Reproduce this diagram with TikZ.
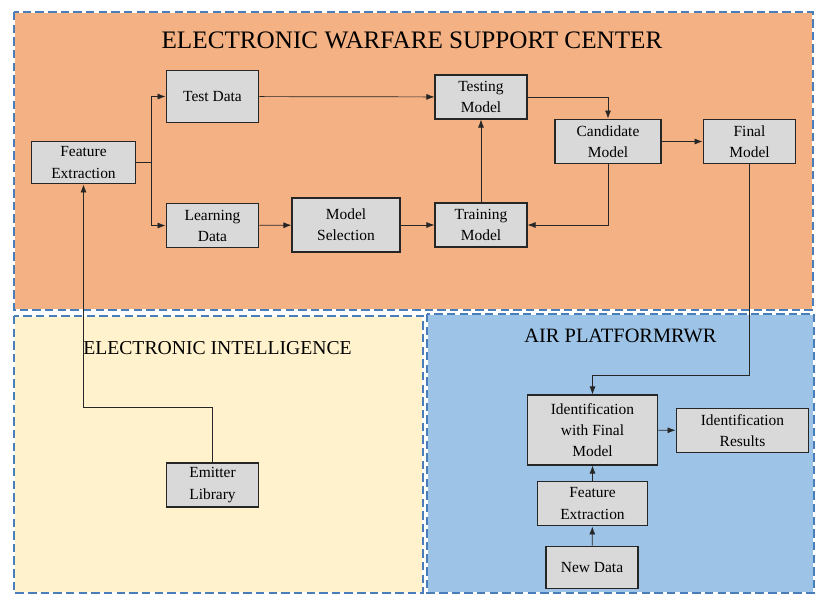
\documentclass[tikz,border=0pt]{standalone}
\usepackage{fontspec}
\setmainfont{Liberation Serif}
\usepackage{tikz}
\usetikzlibrary{arrows.meta}
\usetikzlibrary{calc}
\definecolor{ewsc}{HTML}{F4B183}
\definecolor{elint}{HTML}{FFF2CC}
\definecolor{rwr}{HTML}{9DC3E6}
\definecolor{edge}{HTML}{4A7EBB}
\definecolor{boxgray}{HTML}{D9D9D9}
\tikzstyle{blk} = [draw=black!85, fill=boxgray, line width=0.8pt,
    align=center, inner sep=1pt, font=\fontsize{11}{15}\selectfont]
\tikzstyle{zone} = [fill=#1, draw=white, line width=1.4pt,
    postaction={draw=edge, dashed, dash pattern=on 6pt off 3pt, line width=0.8pt}]
\tikzset{>={Latex[length=2mm,width=1.5mm]}}

\begin{document}
\begin{tikzpicture}
\begin{scope}[x=0.025cm, y=-0.025cm]
    \useasboundingbox (0,0) rectangle (823,600);
    %zones
    \draw[zone=ewsc] (14,12) rectangle (813,310);
    \draw[zone=elint] (14,316) rectangle (423,593);
    \draw[zone=rwr] (427,314) rectangle (814,593);
    \node[font=\fontsize{17.9}{20}\selectfont] (t1) at (412,40) {ELECTRONIC WARFARE SUPPORT CENTER};
    \node[font=\fontsize{14}{17}\selectfont] (t2) at (217.5,348) {ELECTRONIC INTELLIGENCE};
    \node[font=\fontsize{14.5}{17}\selectfont] (t3) at (620.5,336) {AIR PLATFORMRWR};
    %boxes
    \node[blk, minimum width=2.62cm, minimum height=1.07cm] (fe1) at (83.5,162.5) {Feature\\Extraction};
    \node[blk, minimum width=2.32cm, minimum height=1.32cm] (td) at (212.5,96.5) {Test Data};
    \node[blk, minimum width=2.32cm, minimum height=1.12cm] (ld) at (212.5,225.5) {Learning\\Data};
    \node[blk, minimum width=2.7cm, minimum height=1.35cm] (ms) at (346,225) {Model\\Selection};
    \node[blk, minimum width=2.3cm, minimum height=1.1cm] (tsm) at (481,97) {Testing\\Model};
    \node[blk, minimum width=2.3cm, minimum height=1.1cm] (trm) at (481,225) {Training\\Model};
    \node[blk, minimum width=2.65cm, minimum height=1.12cm] (cm) at (608,141.5) {Candidate\\Model};
    \node[blk, minimum width=2.32cm, minimum height=1.12cm] (fm) at (749.5,141.5) {Final\\Model};
    \node[blk, minimum width=2.32cm, minimum height=1.1cm] (el) at (212.5,485) {Emitter\\Library};
    \node[blk, minimum width=3.27cm, minimum height=1.75cm] (idf) at (592.5,430) {Identification\\with Final\\Model};
    \node[blk, minimum width=3.32cm, minimum height=1.12cm] (ir) at (742.5,430.5) {Identification\\Results};
    \node[blk, minimum width=2.77cm, minimum height=1.12cm] (fe2) at (592.5,503.5) {Feature\\Extraction};
    \node[blk, minimum width=2.3cm, minimum height=1.07cm] (nd) at (592,567.5) {New Data};
    %bends
    \coordinate (br) at (151,162.5);
    \coordinate (k1) at (749.5,375);
    \coordinate (k2) at (212.5,407);
    %links
    \begin{scope}[draw=black!85, line width=0.5pt]
    \draw (fe1) -- (br);
    \draw[->] (br) |- (td);
    \draw[->] (br) |- (ld);
    \draw[->] (ld) -- (ms);
    \draw[->] (ms) -- (trm);
    \draw[->] (td) -- (tsm);
    \draw[->] (tsm) -| (cm);
    \draw[->] (cm) |- (trm);
    \draw[->] (trm) -- (tsm);
    \draw[->] (cm) -- (fm);
    \draw[->] (fm) -- (k1) -| (idf);
    \draw[->] (idf) -- (ir);
    \draw[->] (fe2) -- (idf);
    \draw[->] (nd) -- (fe2);
    \draw[->] (el) -- (k2) -| (fe1);
    \end{scope}
\end{scope}
\end{tikzpicture}
\end{document}
